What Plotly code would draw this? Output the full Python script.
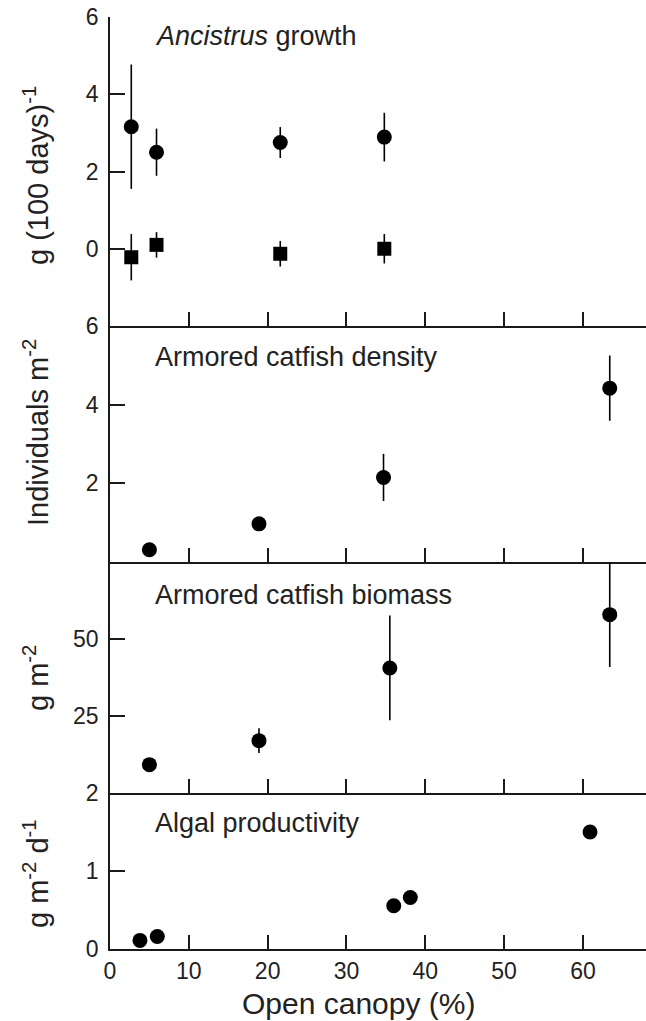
import plotly.graph_objects as go

# ---------------- data ----------------
anc_x = [2.7, 5.9, 21.6, 34.8]
anc_circle_y = [3.16, 2.50, 2.75, 2.89]
anc_circle_err = [1.61, 0.61, 0.40, 0.63]
anc_square_y = [-0.22, 0.10, -0.13, 0.0]
anc_square_err = [0.60, 0.33, 0.33, 0.38]

dens_x = [5.0, 18.9, 34.7, 63.4]
dens_y = [0.31, 0.97, 2.15, 4.42]
dens_err = [0.0, 0.05, 0.60, 0.83]

bio_x = [5.0, 18.9, 35.5, 63.4]
bio_y = [9.2, 17.0, 40.6, 57.9]
bio_err = [0.0, 4.0, 17.0, 17.0]

alg_x = [3.8, 6.0, 36.0, 38.1, 60.9]
alg_y = [0.11, 0.16, 0.555, 0.66, 1.50]

x_ticks = [0, 10, 20, 30, 40, 50, 60]
panel_titles = ["<i>Ancistrus</i> growth", "Armored catfish density",
                "Armored catfish biomass", "Algal productivity"]
y_titles = ["g (100 days)<sup>-1</sup>", "Individuals m<sup>-2</sup>",
            "g m<sup>-2</sup>", "g m<sup>-2</sup> d<sup>-1</sup>"]
y_ranges = [[-2, 6], [0, 6], [0, 75], [0, 2]]
y_tickvals = [[0, 2, 4, 6], [2, 4, 6], [25, 50], [0, 1, 2]]

# ---------------- layout geometry ----------------
W, H = 646, 1021
ML, MR, MT, MB = 110, 0, 17, 72
PW, PH = W - ML - MR, H - MT - MB
panel_px = [(17, 326), (326, 562), (562, 793), (793, 949)]  # top, bottom pixel rows


def py(p):
    return (H - MB - p) / PH


def px(p):
    return (p - ML) / PW


FONT = "Liberation Sans, Arial, sans-serif"
INK = "#1a1a1a"
TXT = "#222"

fig = go.Figure()

marker_c = dict(color="black", size=15, symbol="circle")
marker_s = dict(color="black", size=14, symbol="square")


def eb(arr):
    return dict(type="data", array=arr, visible=True, color="black", thickness=1.6, width=0)


fig.add_trace(go.Scatter(x=anc_x, y=anc_circle_y, mode="markers", marker=marker_c,
                         error_y=eb(anc_circle_err), xaxis="x", yaxis="y", cliponaxis=False))
fig.add_trace(go.Scatter(x=anc_x, y=anc_square_y, mode="markers", marker=marker_s,
                         error_y=eb(anc_square_err), xaxis="x", yaxis="y", cliponaxis=False))
fig.add_trace(go.Scatter(x=dens_x, y=dens_y, mode="markers", marker=marker_c,
                         error_y=eb(dens_err), xaxis="x2", yaxis="y2", cliponaxis=False))
fig.add_trace(go.Scatter(x=bio_x, y=bio_y, mode="markers", marker=marker_c,
                         error_y=eb(bio_err), xaxis="x3", yaxis="y3", cliponaxis=False))
fig.add_trace(go.Scatter(x=alg_x, y=alg_y, mode="markers", marker=marker_c,
                         xaxis="x4", yaxis="y4", cliponaxis=False))

layout = dict(
    width=W, height=H,
    margin=dict(l=ML, r=MR, t=MT, b=MB),
    paper_bgcolor="white", plot_bgcolor="white",
    showlegend=False,
    font=dict(family=FONT, color=INK),
)

annotations = []
for i in range(4):
    top, bot = panel_px[i]
    xa = "xaxis" if i == 0 else f"xaxis{i+1}"
    ya = "yaxis" if i == 0 else f"yaxis{i+1}"
    layout[xa] = dict(
        domain=[0, 1], range=[0, 68], anchor="y" if i == 0 else f"y{i+1}",
        showline=True, linecolor=INK, linewidth=1.8,
        ticks="inside", ticklen=14, tickwidth=1.8, tickcolor=INK,
        tickvals=x_ticks, showticklabels=(i == 3),
        tickfont=dict(size=23, color=TXT),
        showgrid=False, zeroline=False, fixedrange=True,
    )
    layout[ya] = dict(
        domain=[py(bot), py(top)], range=y_ranges[i],
        anchor="x" if i == 0 else f"x{i+1}",
        showline=True, linecolor=INK, linewidth=1.8,
        ticks="inside", ticklen=15, tickwidth=1.8, tickcolor=INK,
        tickvals=y_tickvals[i], ticklabelstandoff=5,
        tickfont=dict(size=23, color=TXT),
        showgrid=False, zeroline=False, fixedrange=True,
    )
    label_y = [36, 357, 595, 823][i]
    annotations.append(dict(
        text=panel_titles[i], xref="paper", yref="paper",
        x=px(153), y=py(label_y), xanchor="left", yanchor="middle",
        showarrow=False, font=dict(size=27, color=TXT, family=FONT)))
    title_y = [176, 433, 678, 874][i]
    annotations.append(dict(
        text=y_titles[i], xref="paper", yref="paper", textangle=-90,
        x=px(36), y=py(title_y), xanchor="center", yanchor="middle",
        showarrow=False, font=dict(size=29, color=TXT, family=FONT)))

annotations.append(dict(
    text="Open canopy (%)", xref="paper", yref="paper",
    x=px(358), y=py(1003), xanchor="center", yanchor="middle",
    showarrow=False, font=dict(size=30, color=TXT, family=FONT)))

layout["annotations"] = annotations
fig.update_layout(**layout)

fig.write_html("out.html")
